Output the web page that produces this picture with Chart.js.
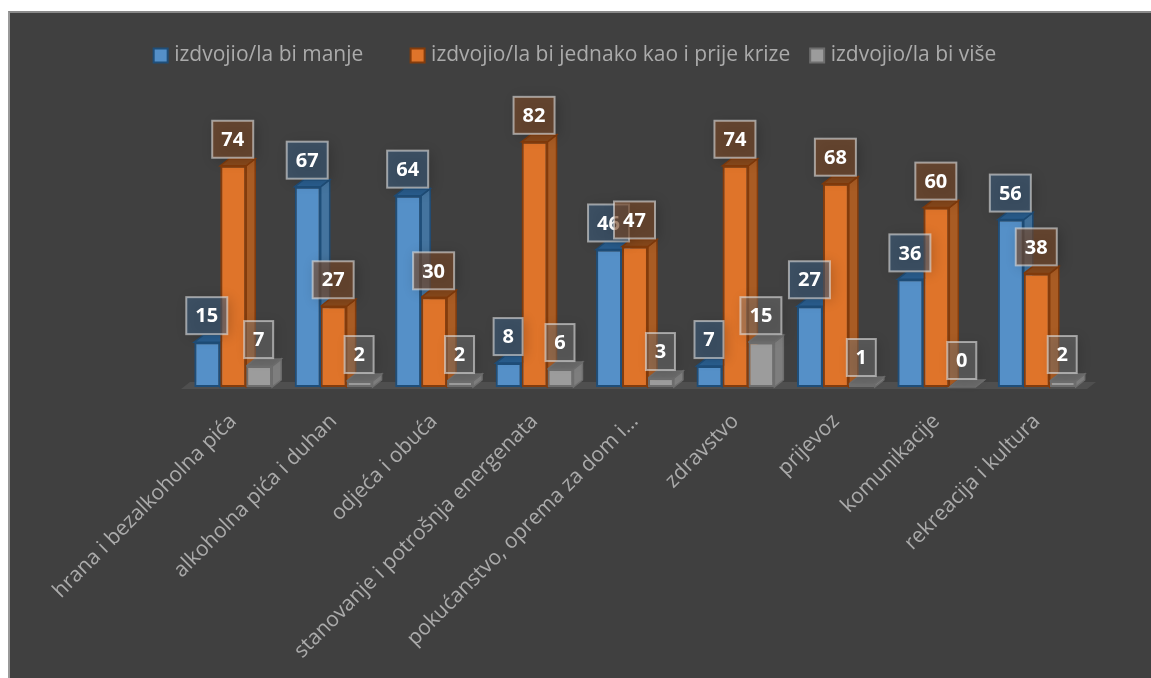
<!DOCTYPE html>
<html><head><meta charset="utf-8">
<style>
html,body{margin:0;padding:0;background:#fff;width:1151px;height:678px;overflow:hidden}
#wrap{position:absolute;left:8px;top:11px;width:1143px;height:667px;background:#404040;border-left:2px solid #9a9a9a;border-top:2px solid #8a8a8a;box-sizing:border-box}
canvas{display:block}
</style>
<script src="https://cdn.jsdelivr.net/npm/chart.js@4"></script>
</head><body>
<div id="wrap"><canvas id="c" width="1141" height="665"></canvas></div>
<script>
const categories = ["hrana i bezalkoholna pića","alkoholna pića i duhan","odjeća i obuća","stanovanje i potrošnja energenata","pokućanstvo, oprema za dom i...","zdravstvo","prijevoz","komunikacije","rekreacija i kultura"];
const seriesNames = ["izdvojio/la bi manje","izdvojio/la bi jednako kao i prije krize","izdvojio/la bi više"];
const manje = [15,67,64,8,46,7,27,36,56];
const jednako = [74,27,30,82,47,74,68,60,38];
const vise = [7,2,2,6,3,15,1,0,2];
const FONT = "'Open Sans'";
const DEPTH_X = 9, DEPTH_Y = 7;
const palette = [
 {front:'#5590C8',border:'#1F4E79',top:'#2A5F90',side:'#44749F',box:'rgba(60,95,130,0.55)'},
 {front:'#DF742A',border:'#843C0C',top:'#8A4A1C',side:'#A95C24',box:'rgba(125,75,40,0.62)'},
 {front:'#9C9C9C',border:'#6E6E6E',top:'#6A6A6A',side:'#7E7E7E',box:'rgba(125,125,125,0.42)'}
];
const poly=(ctx,pts,fill,stroke)=>{ctx.beginPath();pts.forEach((p,i)=>i?ctx.lineTo(p[0],p[1]):ctx.moveTo(p[0],p[1]));ctx.closePath();ctx.fillStyle=fill;ctx.fill();if(stroke){ctx.strokeStyle=stroke;ctx.lineWidth=1.5;ctx.stroke();}};
const depth3d={id:'depth3d',
 afterLayout(chart){
  const lg=chart.legend;
  lg.top=8; lg.left-=58; lg.right-=58;
 },
 beforeDatasetsDraw(chart){
  const ctx=chart.ctx,a=chart.chartArea,y0=chart.scales.y.getPixelForValue(0);
  ctx.save();
  poly(ctx,[[a.left-2,y0+2],[a.left+DEPTH_X-2,y0-DEPTH_Y+2],[a.right+DEPTH_X,y0-DEPTH_Y+2],[a.right,y0+2]],'#4F4F4F');
  chart.data.datasets.forEach((ds,di)=>{
   const c=palette[di];
   chart.getDatasetMeta(di).data.forEach(b=>{
    const l=b.x-b.width/2,r=b.x+b.width/2,t=b.y,bt=b.base;
    poly(ctx,[[r,t],[r+DEPTH_X,t-DEPTH_Y],[r+DEPTH_X,bt-DEPTH_Y],[r,bt]],c.side,c.border);
    poly(ctx,[[l,t],[l+DEPTH_X,t-DEPTH_Y],[r+DEPTH_X,t-DEPTH_Y],[r,t]],c.top,c.border);
   });
  });
  ctx.restore();
 },
 afterDatasetsDraw(chart){
  const ctx=chart.ctx;
  ctx.save();
  ctx.font="700 20px "+FONT;ctx.textAlign='center';ctx.textBaseline='middle';
  chart.data.datasets.forEach((ds,di)=>{
   chart.getDatasetMeta(di).data.forEach((b,i)=>{
    const s=String(ds.data[i]),w=s.length>1?41:29,h=37,x=b.x-w/2-0.5,y=b.y-8-h;
    ctx.save();
    ctx.shadowColor='rgba(0,0,0,0.35)';ctx.shadowBlur=12;ctx.shadowOffsetX=3;ctx.shadowOffsetY=2;
    ctx.fillStyle=palette[di].box;ctx.fillRect(x,y,w,h);
    ctx.restore();
    ctx.strokeStyle='rgba(225,225,225,0.6)';ctx.lineWidth=2;ctx.strokeRect(x,y,w,h);
    ctx.fillStyle='#fff';ctx.fillText(s,x+w/2,y+h/2+1);
   });
  });
  ctx.restore();
 }
};
const values=[manje,jednako,vise];
new Chart(document.getElementById('c'),{
 type:'bar',
 data:{labels:categories,datasets:seriesNames.map((n,i)=>({label:n,data:values[i],backgroundColor:palette[i].front,borderColor:palette[i].border,borderWidth:2,barPercentage:1,categoryPercentage:0.775,borderSkipped:false}))},
 options:{
  responsive:false,animation:false,
  layout:{padding:{left:173,right:64,top:26,bottom:0}},
  plugins:{
   tooltip:{enabled:false},
   legend:{display:true,position:'top',align:'center',
    labels:{usePointStyle:true,boxWidth:6,boxHeight:14,padding:24,color:'#ABABAB',font:{family:FONT,size:21},
     generateLabels(chart){return chart.data.datasets.map((d,i)=>({text:i===0?d.label+'     ':d.label,fillStyle:palette[i].front,strokeStyle:palette[i].border,lineWidth:2,pointStyle:'rect',datasetIndex:i,fontColor:'#ABABAB'}));}}
   }
  },
  scales:{
   y:{display:false,min:0,max:98},
   x:{grid:{display:false},border:{display:false},
    ticks:{color:'#ABABAB',font:{family:FONT,size:21},minRotation:45,maxRotation:45,autoSkip:false,padding:14},
    afterFit(s){s.height=291;s.paddingLeft=0;s.paddingRight=0;}
   }
  }
 },
 plugins:[depth3d]
});
</script>
</body></html>
